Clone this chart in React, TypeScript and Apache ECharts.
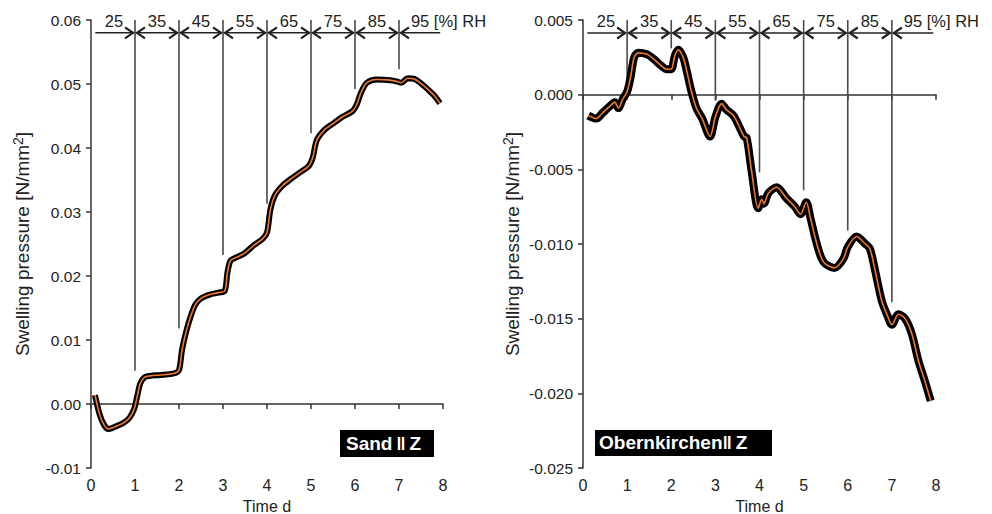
import React, { useEffect, useRef } from 'react';
import * as echarts from 'echarts';

// ---- Data: Sand || Z (left) ----
const sandDays = [0.09, 0.2, 0.3, 0.39, 0.5, 0.6, 0.75, 0.88, 0.98, 1.05, 1.12, 1.22, 1.35, 1.5, 1.7, 1.9, 2.0, 2.07, 2.17, 2.27, 2.37, 2.5, 2.7, 2.9, 3.04, 3.1, 3.17, 3.3, 3.5, 3.7, 3.9, 4.0, 4.08, 4.18, 4.35, 4.55, 4.75, 4.95, 5.04, 5.13, 5.3, 5.5, 5.7, 5.95, 6.04, 6.14, 6.27, 6.5, 6.8, 6.95, 7.05, 7.2, 7.35, 7.5, 7.65, 7.8, 7.93];
const sandPressure = [0.0014, -0.0017, -0.0033, -0.0039, -0.0037, -0.0034, -0.0029, -0.0021, -0.0008, 0.0012, 0.0032, 0.0042, 0.0044, 0.0045, 0.0046, 0.0048, 0.0053, 0.0085, 0.0115, 0.0138, 0.0155, 0.0165, 0.0171, 0.0174, 0.0177, 0.0205, 0.0224, 0.0229, 0.0236, 0.0248, 0.0258, 0.0268, 0.0305, 0.0326, 0.0341, 0.0352, 0.0362, 0.0372, 0.0385, 0.0412, 0.0428, 0.0438, 0.0448, 0.0458, 0.0468, 0.0487, 0.0502, 0.0507, 0.0506, 0.0504, 0.0502, 0.0509, 0.0508, 0.0501, 0.0492, 0.0482, 0.047];

// ---- Data: Obernkirchen || Z (right) ----
const oberDays = [0.12, 0.3, 0.45, 0.6, 0.72, 0.8, 0.9, 1.0, 1.08, 1.16, 1.25, 1.45, 1.6, 1.75, 1.9, 2.0, 2.08, 2.16, 2.27, 2.35, 2.45, 2.57, 2.7, 2.88, 3.0, 3.14, 3.25, 3.41, 3.55, 3.65, 3.71, 3.82, 3.97, 4.05, 4.1, 4.2, 4.39, 4.6, 4.8, 4.93, 5.06, 5.15, 5.3, 5.45, 5.7, 5.9, 6.0, 6.2, 6.4, 6.5, 6.6, 6.77, 6.9, 7.0, 7.15, 7.3, 7.45, 7.6, 7.75, 7.88];
const oberPressure = [-0.0014, -0.0016, -0.0012, -0.0008, -0.0005, -0.0009, -0.0003, 0.0002, 0.0012, 0.0025, 0.0028, 0.0027, 0.0024, 0.002, 0.0017, 0.0017, 0.0026, 0.003, 0.0025, 0.0016, 0.0003, -0.0009, -0.0016, -0.0028, -0.0015, -0.0006, -0.001, -0.0014, -0.0022, -0.0028, -0.0029, -0.0051, -0.0076, -0.007, -0.0073, -0.0066, -0.0062, -0.0069, -0.0075, -0.008, -0.0072, -0.0082, -0.01, -0.0112, -0.0116, -0.011, -0.0102, -0.0095, -0.01, -0.0103, -0.0115, -0.0138, -0.0148, -0.0154, -0.0147, -0.015, -0.016, -0.0178, -0.0192, -0.0205];

// ---- RH steps ----
const stepDays = [1, 2, 3, 4, 5, 6, 7];
const sandStepEnds = [0.0052, 0.0118, 0.0233, 0.0313, 0.0423, 0.0492, 0.0523];
const oberStepEnds = [0.0003, 0.0031, -0.0004, -0.0052, -0.0064, -0.0091, -0.0139];
const rhLabels = ['25', '35', '45', '55', '65', '75', '85', '95 [%] RH'];
const rhLabelDays = [0.52, 1.5, 2.5, 3.5, 4.5, 5.5, 6.5, 7.27];
// arrow segments: heads 1=right, 2=left, 3=both
const arrowFrom = [0.075, 1, 2, 3, 4, 5, 6, 7];
const arrowTo = [1, 2, 3, 4, 5, 6, 7, 7.96];
const arrowHeads = [1, 3, 3, 3, 3, 3, 3, 2];

// axis ranges
const sandMin = -0.01, sandMax = 0.06, sandInterval = 0.01;
const oberMin = -0.025, oberMax = 0.005, oberInterval = 0.005;

const FONT = '"Liberation Sans", Arial, sans-serif';

function zip(a: number[], b: number[]) {
  return a.map((v, i) => [v, b[i]]);
}

function stepSeries(ax: number, ends: number[], top: number) {
  return {
    type: 'custom',
    xAxisIndex: ax,
    yAxisIndex: ax,
    silent: true,
    z: 1,
    data: stepDays.map((d, i) => [d, ends[i], top]),
    renderItem: (params: any, api: any) => {
      const a = api.coord([api.value(0), api.value(2)]);
      const b = api.coord([api.value(0), api.value(1)]);
      return {
        type: 'line',
        shape: { x1: a[0], y1: a[1], x2: b[0], y2: b[1] },
        style: { stroke: '#4a4a4a', lineWidth: 1.6 },
      };
    },
  };
}

function arrowSeries(ax: number, yv: number) {
  return {
    type: 'custom',
    xAxisIndex: ax,
    yAxisIndex: ax,
    silent: true,
    z: 3,
    data: arrowFrom.map((f, i) => [f, arrowTo[i], yv, arrowHeads[i]]),
    renderItem: (params: any, api: any) => {
      const p1 = api.coord([api.value(0), api.value(2)]);
      const p2 = api.coord([api.value(1), api.value(2)]);
      const h = api.value(3);
      const st = { stroke: '#222', lineWidth: 1.5, fill: 'none' };
      const children: any[] = [
        { type: 'line', shape: { x1: p1[0] + 1, y1: p1[1], x2: p2[0] - 1, y2: p2[1] }, style: st },
      ];
      if (h === 1 || h === 3) {
        children.push({
          type: 'polyline',
          shape: { points: [[p2[0] - 10, p2[1] - 5.5], [p2[0] - 2, p2[1]], [p2[0] - 10, p2[1] + 5.5]] },
          style: { stroke: '#222', lineWidth: 2.2, fill: 'none' },
        });
      }
      if (h === 2 || h === 3) {
        children.push({
          type: 'polyline',
          shape: { points: [[p1[0] + 10, p1[1] - 5.5], [p1[0] + 2, p1[1]], [p1[0] + 10, p1[1] + 5.5]] },
          style: { stroke: '#222', lineWidth: 2.2, fill: 'none' },
        });
      }
      return { type: 'group', children };
    },
  };
}

function labelSeries(ax: number, yv: number) {
  return {
    type: 'custom',
    xAxisIndex: ax,
    yAxisIndex: ax,
    silent: true,
    z: 3,
    data: rhLabelDays.map((d, i) => [d, yv, i]),
    renderItem: (params: any, api: any) => {
      const p = api.coord([api.value(0), api.value(1)]);
      const idx = api.value(2);
      const last = idx === rhLabels.length - 1;
      return {
        type: 'text',
        x: p[0],
        y: p[1] + 1,
        style: {
          text: rhLabels[idx],
          fill: '#222',
          fontSize: 16.5,
          fontFamily: FONT,
          align: last ? 'left' : 'center',
          verticalAlign: 'middle',
        },
      };
    },
  };
}

function xAxisCfg(gi: number) {
  return {
    type: 'value',
    gridIndex: gi,
    min: 0,
    max: 8,
    interval: 1,
    name: 'Time d',
    nameLocation: 'middle',
    nameGap: 30,
    nameTextStyle: { fontSize: 16, color: '#222', fontFamily: FONT },
    splitLine: { show: false },
    axisLine: { lineStyle: { color: '#333', width: 1.5 } },
    axisTick: { show: true, length: 5, lineStyle: { color: '#333', width: 1.5 } },
    axisLabel: { fontSize: 16, color: '#222', fontFamily: FONT, margin: 9 },
  };
}

function yAxisCfg(gi: number, min: number, max: number, interval: number, dec: number) {
  return {
    type: 'value',
    gridIndex: gi,
    min,
    max,
    interval,
    name: 'Swelling pressure [N/mm{sup|2}]',
    nameLocation: 'middle',
    nameGap: dec === 2 ? 57 : 59,
    nameTextStyle: {
      fontSize: 19,
      color: '#222',
      fontFamily: FONT,
      rich: { sup: { fontSize: 14, color: '#222', fontFamily: FONT, padding: [0, 0, 9, 0] } },
    },
    splitLine: { show: false },
    axisLine: { show: true, lineStyle: { color: '#333', width: 1.5 } },
    axisTick: { show: true, length: 5, lineStyle: { color: '#333', width: 1.5 } },
    axisLabel: {
      fontSize: 15.5,
      color: '#222',
      fontFamily: FONT,
      margin: 10,
      formatter: (v: number) => (Math.abs(v) < 1e-9 ? (0).toFixed(dec) : v.toFixed(dec)),
    },
  };
}

function dataSeries(ax: number, days: number[], vals: number[], blackWidth: number) {
  const d = zip(days, vals);
  return [
    {
      type: 'line',
      xAxisIndex: ax,
      yAxisIndex: ax,
      data: d,
      symbol: 'none',
      smooth: 0.3,
      z: 4,
      lineStyle: { color: '#000', width: blackWidth },
    },
    {
      type: 'line',
      xAxisIndex: ax,
      yAxisIndex: ax,
      data: d,
      symbol: 'none',
      smooth: 0.3,
      z: 5,
      lineStyle: { color: '#f07a28', width: 1.6 },
    },
  ];
}

export default function App() {
  const ref = useRef<HTMLDivElement>(null);
  useEffect(() => {
    if (!ref.current) return;
    const chart = echarts.init(ref.current, undefined, { renderer: 'svg' });
    chart.setOption({
      animation: false,
      backgroundColor: '#fff',
      grid: [
        { left: 91, top: 20, width: 352, height: 448, containLabel: false, outerBoundsMode: 'none' },
        { left: 583, top: 20, width: 353, height: 448, containLabel: false, outerBoundsMode: 'none' },
      ],
      xAxis: [xAxisCfg(0), xAxisCfg(1)],
      yAxis: [
        yAxisCfg(0, sandMin, sandMax, sandInterval, 2),
        yAxisCfg(1, oberMin, oberMax, oberInterval, 3),
      ],
      series: [
        stepSeries(0, sandStepEnds, sandMax),
        stepSeries(1, oberStepEnds, oberMax),
        arrowSeries(0, 0.058),
        arrowSeries(1, 0.00413),
        labelSeries(0, sandMax),
        labelSeries(1, oberMax),
        ...dataSeries(0, sandDays, sandPressure, 6),
        ...dataSeries(1, oberDays, oberPressure, 8),
      ],
      graphic: [
        { type: 'rect', left: 340, top: 430, shape: { width: 94, height: 27 }, style: { fill: '#000' }, z: 10 },
        {
          type: 'text', left: 346, top: 434, z: 11,
          style: { text: 'Sand\u2009‖\u2009Z', fill: '#fff', fontSize: 19, fontWeight: 'bold', fontFamily: FONT },
        },
        { type: 'rect', left: 595, top: 430, shape: { width: 177, height: 26 }, style: { fill: '#000' }, z: 10 },
        {
          type: 'text', left: 599, top: 433, z: 11,
          style: { text: 'Obernkirchen‖\u2009Z', fill: '#fff', fontSize: 19, fontWeight: 'bold', fontFamily: FONT },
        },
      ],
    });
    return () => chart.dispose();
  }, []);
  return (
    <div
      ref={ref}
      style={{ position: 'fixed', left: 0, top: 0, width: 992, height: 514 }}
    />
  );
}
